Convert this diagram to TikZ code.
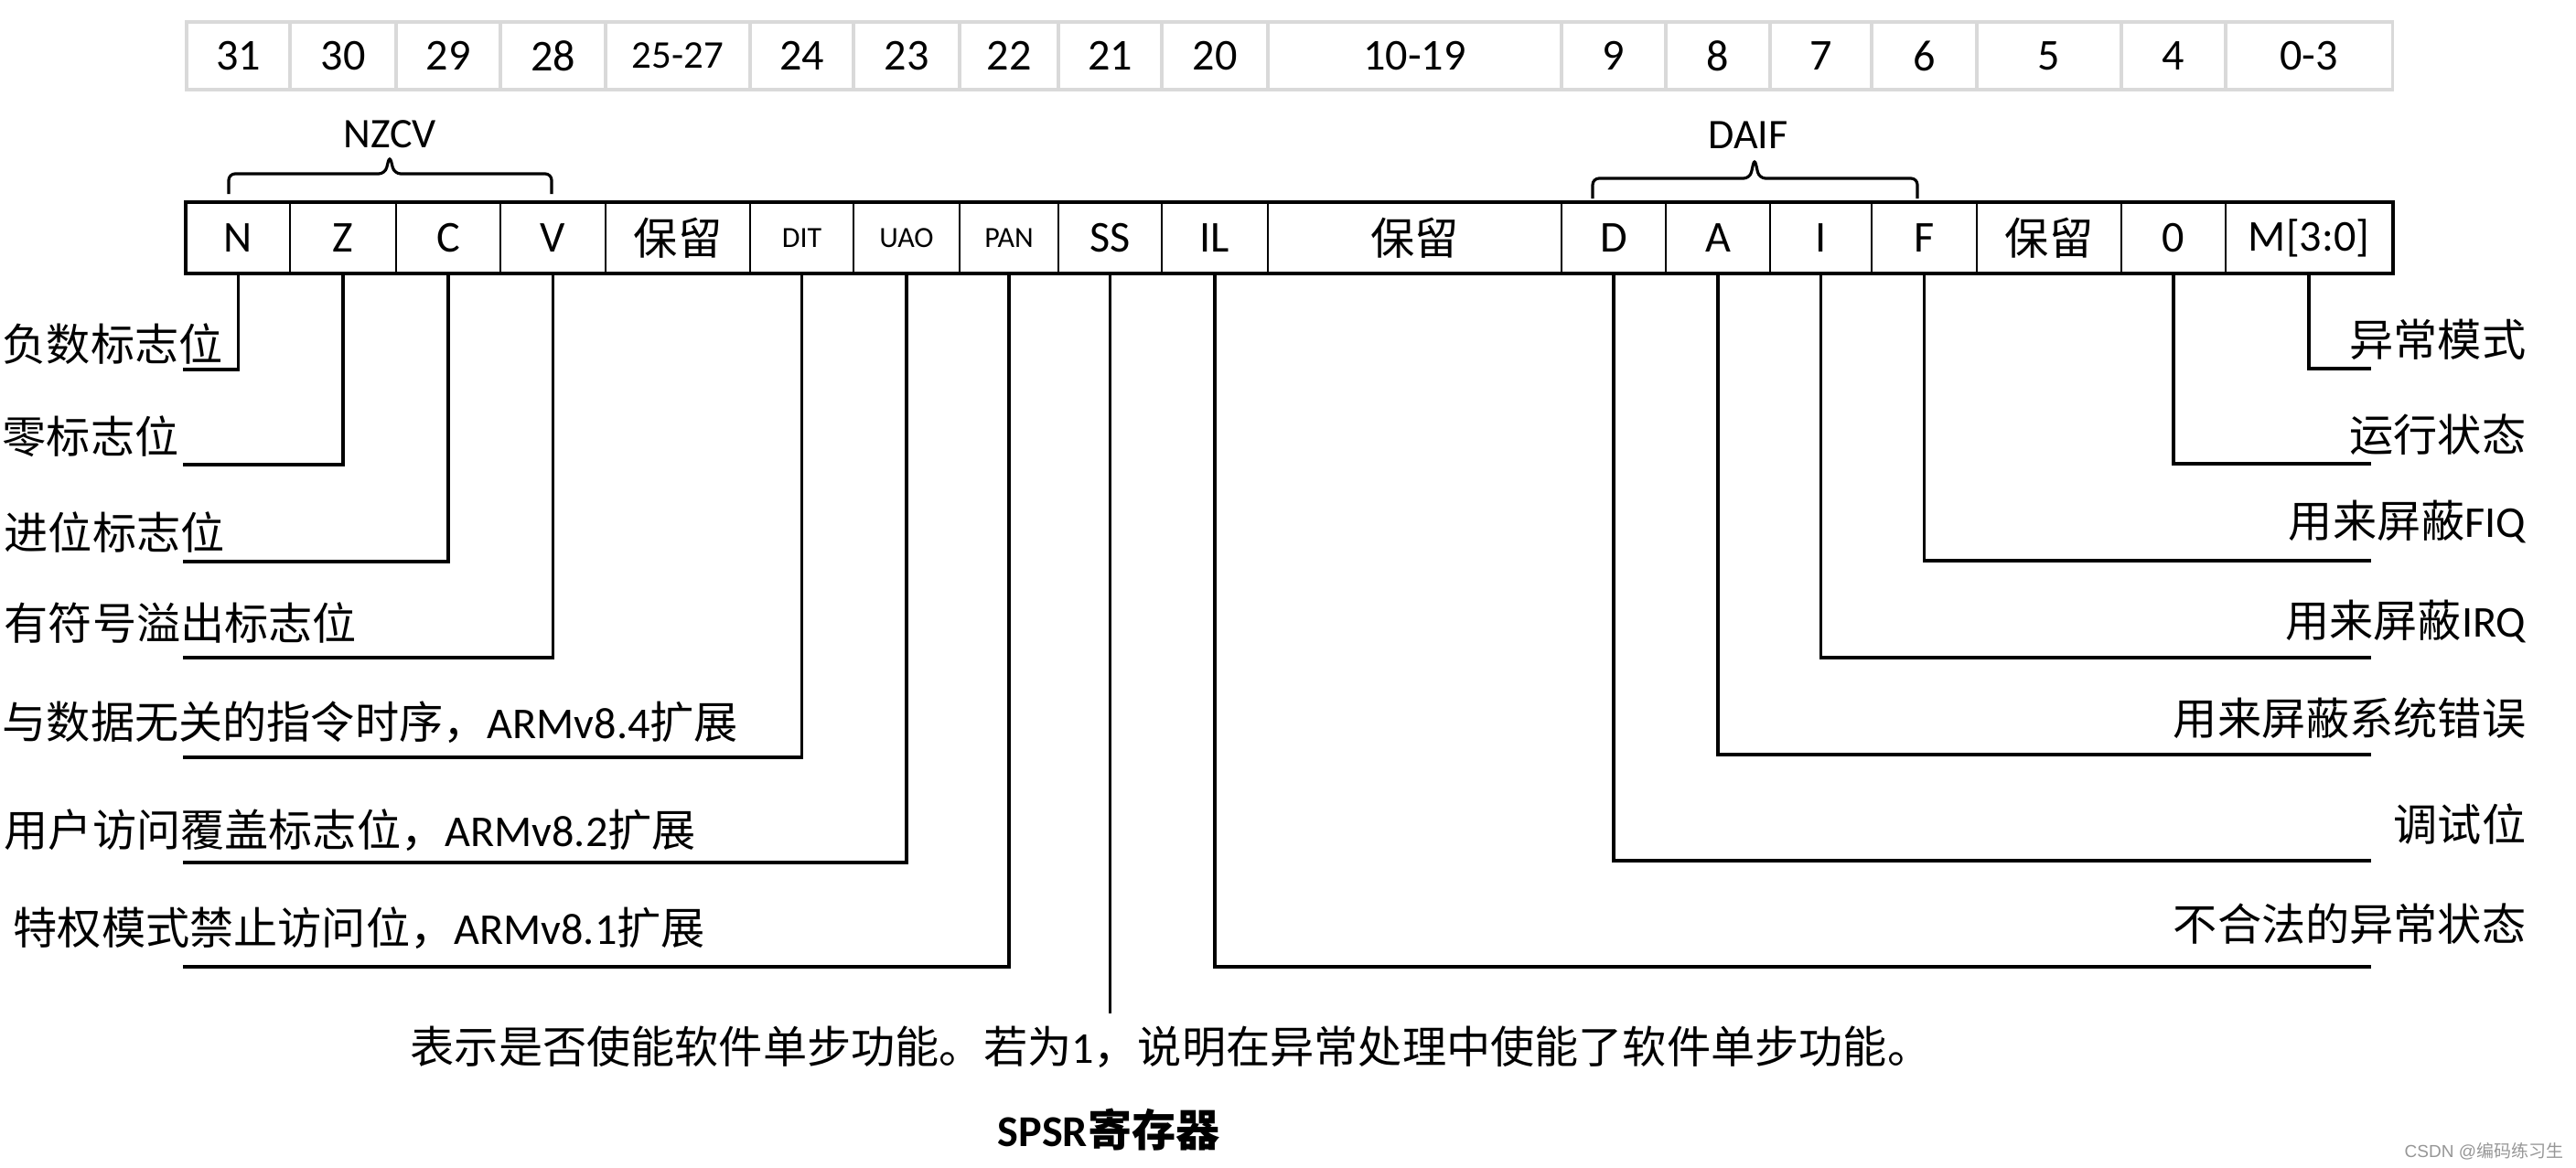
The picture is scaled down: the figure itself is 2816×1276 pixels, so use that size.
\documentclass[tikz,border=0pt]{standalone}
\usepackage{fontspec}
\setmainfont{Carlito}
\newfontfamily\cjk{Noto Sans CJK SC}
\newfontfamily\wmfont{Liberation Sans}
\usepackage{xcolor}
\definecolor{cellgray}{RGB}{217,217,217}
\definecolor{markgray}{RGB}{150,150,150}
\usetikzlibrary{positioning,calc}
\newcommand\smallbit{\fontsize{12.2pt}{14pt}\selectfont}
\newcommand\tinyfield{\fontsize{9.1pt}{11pt}\selectfont}
\tikzset{
  bitcell/.style={draw=cellgray,line width=0.9pt,minimum height=0.74cm,inner sep=0pt,
    font=\fontsize{13.7pt}{16pt}\selectfont},
  fieldcell/.style={draw,line width=0.6pt,minimum height=0.76cm,inner sep=0pt,
    font=\fontsize{13.7pt}{16pt}\selectfont},
  leader/.style={line width=1.1pt},
  ssline/.style={line width=0.6pt},
  bracket/.style={line width=0.9pt,rounded corners=2pt},
  grp/.style={inner sep=0pt,font=\fontsize{13.1pt}{15pt}\selectfont},
  lbl/.style={inner sep=0pt,font=\fontsize{13.7pt}{16pt}\selectfont},
  wmark/.style={inner sep=0pt,text=markgray,font=\fontsize{5.4pt}{7pt}\selectfont}
}

\begin{document}
\begin{tikzpicture}[x=0.01cm,y=-0.01cm]
  \useasboundingbox (0,0) rectangle (2816,1276);
  % 位号和字段
  \foreach \l/\r/\tb/\fb/\nm [evaluate=\l as \w using (\r-\l)/100] in {
      204/317/31/N/N, 317/433/30/Z/Z, 433/547/29/C/C, 547/662/28/V/V,
      662/820/{\smallbit 25-27}/{\cjk 保留}/resA,
      820/933/24/{\tinyfield DIT}/DIT, 933/1049/23/{\tinyfield UAO}/UAO,
      1049/1157/22/{\tinyfield PAN}/PAN, 1157/1270/21/SS/SS, 1270/1386/20/IL/IL,
      1386/1707/10-19/{\cjk 保留}/resB,
      1707/1821/9/D/D, 1821/1935/8/A/A, 1935/2046/7/I/I, 2046/2161/6/F/F,
      2161/2319/5/{\cjk 保留}/resC, 2319/2433/4/0/zero, 2433/2615/0-3/{M[3:0]}/M}
  {
    \node[bitcell,minimum width=\w cm] (b\nm) at ({(\l+\r)/2},61) {\tb};
    \node[fieldcell,minimum width=\w cm] (f\nm) at ({(\l+\r)/2},260) {\fb};
  }
  \draw[line width=1.2pt] (fN.north west) rectangle (fM.south east);
  % 括号
  \draw[bracket] (250,212) -- (250,190) -- (421,190) -- (426,170) -- (431,190) -- (603,190) -- (603,212);
  \node[grp] (nzcv) at (426,147) {NZCV};
  \draw[bracket] (1741,217) -- (1741,195) -- (1913,195) -- (1918,173) -- (1923,195) -- (2096,195) -- (2096,217);
  \node[grp] (daif) at (1911,148) {DAIF};
  % 左边的引线
  \foreach \nm/\y in {N/404,Z/508,C/614,V/719,DIT/828,UAO/943,PAN/1057}
  {
    \coordinate (e\nm) at (200,\y);
    \draw[leader] (f\nm.south) |- (e\nm);
  }
  % 右边的引线
  \foreach \nm/\y in {M/403,zero/507,F/613,I/719,A/825,D/941,IL/1057}
  {
    \coordinate (e\nm) at (2592,\y);
    \draw[leader] (f\nm.south) |- (e\nm);
  }
  \coordinate (eSS) at (fSS.south |- 0,1108);
  \draw[ssline] (fSS.south) -- (eSS);
  % 说明
  \node[lbl,anchor=base west] (dN) at (2,394) {\cjk 负数标志位};
  \node[lbl,anchor=base west] (dZ) at (2,495) {\cjk 零标志位};
  \node[lbl,anchor=base west] (dC) at (4,600) {\cjk 进位标志位};
  \node[lbl,anchor=base west] (dV) at (4,699) {\cjk 有符号溢出标志位};
  \node[lbl,anchor=base west] (dDIT) at (2,807) {{\cjk 与数据无关的指令时序，}ARMv8.4{\cjk 扩展}};
  \node[lbl,anchor=base west] (dUAO) at (4,925) {{\cjk 用户访问覆盖标志位，}ARMv8.2{\cjk 扩展}};
  \node[lbl,anchor=base west] (dPAN) at (14,1032) {{\cjk 特权模式禁止访问位，}ARMv8.1{\cjk 扩展}};
  \node[lbl,anchor=base east] (dM) at (2762,389) {\cjk 异常模式};
  \node[lbl,anchor=base east] (dzero) at (2762,493) {\cjk 运行状态};
  \node[lbl,anchor=base east] (dF) at (2762,587) {{\cjk 用来屏蔽}FIQ};
  \node[lbl,anchor=base east] (dI) at (2762,696) {{\cjk 用来屏蔽}IRQ};
  \node[lbl,anchor=base east] (dA) at (2762,803) {\cjk 用来屏蔽系统错误};
  \node[lbl,anchor=base east] (dD) at (2762,919) {\cjk 调试位};
  \node[lbl,anchor=base east] (dIL) at (2762,1028) {\cjk 不合法的异常状态};
  \node[lbl,anchor=base west] (dSS) at (448,1162) {{\cjk 表示是否使能软件单步功能。若为}1{\cjk ，说明在异常处理中使能了软件单步功能。}};
  \node[lbl,anchor=base west,font=\fontsize{13.7pt}{16pt}\selectfont\bfseries] (title) at (1090,1253) {SPSR{\cjk 寄存器}};
  \node[wmark,anchor=base west] (wm) at (2628,1265) {{\wmfont CSDN @}{\cjk 编码练习生}};
\end{tikzpicture}
\end{document}
